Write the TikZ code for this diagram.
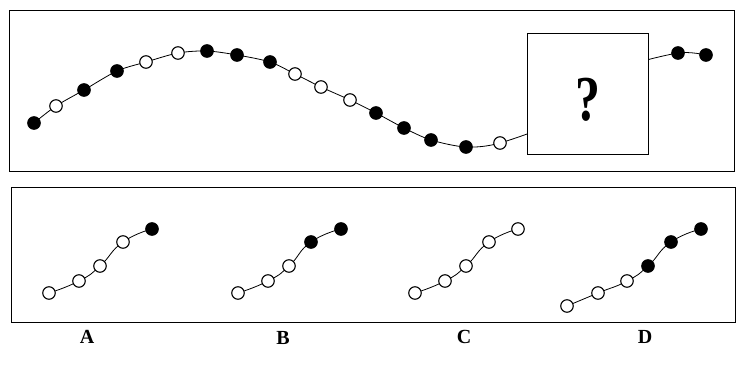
\documentclass[tikz,border=0pt]{standalone}
\usepackage{fontspec}
\setmainfont{Liberation Serif}
\usetikzlibrary{backgrounds}
\begin{document}
\begin{tikzpicture}[x=1pt, y=-1pt,
        bead/.style={circle, draw, line width=1.1pt, inner sep=0pt, minimum size=12.5pt},
        wbead/.style={bead, fill=white},
        bbead/.style={bead, fill=black},
        wire/.style={line width=0.8pt},
        frame/.style={line width=0.8pt},
        letter/.style={font=\fontsize{20}{20}\selectfont\bfseries}]
    \useasboundingbox (0,0) rectangle (744,369);

    % frames
    \draw[frame] (9,10) rectangle (734,171);
    \draw[frame] (11,187) rectangle (735,322);

    % top row
    \foreach \x/\y/\s [count=\i] in {34/123/bbead, 56/106/wbead, 84/90/bbead, 117/71/bbead,
            146/62/wbead, 178/53/wbead, 207/51/bbead, 237/55/bbead, 270/62/bbead,
            295/74/wbead, 321/87/wbead, 350/100/wbead, 376/113/bbead, 404/128/bbead,
            431/140/bbead, 466/147/bbead, 500/143/wbead}
        \node[\s] (t\i) at (\x,\y) {};
    \coordinate (h1) at (558,121);
    \coordinate (h2) at (590,93);
    \coordinate (h3) at (622,68);
    \node[bbead] (t18) at (678,53) {};
    \node[bbead] (t19) at (706,55) {};

    \begin{scope}[on background layer]
        \draw[wire] plot[smooth] coordinates {(t1.center) (t2.center) (t3.center) (t4.center)
            (t5.center) (t6.center) (t7.center) (t8.center) (t9.center) (t10.center)
            (t11.center) (t12.center) (t13.center) (t14.center) (t15.center) (t16.center)
            (t17.center) (h1) (h2) (h3) (t18.center) (t19.center)};
    \end{scope}

    \node[draw, line width=0.8pt, fill=white, minimum width=121pt, minimum height=121pt] (ask) at (587.5,93.5) {};
    \node[font=\fontsize{64}{64}\selectfont\bfseries, xscale=0.78] (qm) at (588,100) {?};

    % option A
    \node[wbead] (a1) at (49,293) {};
    \node[wbead] (a2) at (79,281) {};
    \node[wbead] (a3) at (100,266) {};
    \node[wbead] (a4) at (123,242) {};
    \node[bbead] (a5) at (152,229) {};

    % option B
    \node[wbead] (b1) at (238,293) {};
    \node[wbead] (b2) at (268,281) {};
    \node[wbead] (b3) at (289,266) {};
    \node[bbead] (b4) at (311,242) {};
    \node[bbead] (b5) at (341,229) {};

    % option C
    \node[wbead] (c1) at (415,293) {};
    \node[wbead] (c2) at (445,281) {};
    \node[wbead] (c3) at (466,266) {};
    \node[wbead] (c4) at (489,242) {};
    \node[wbead] (c5) at (518,229) {};

    % option D
    \node[wbead] (d1) at (567,306) {};
    \node[wbead] (d2) at (598,293) {};
    \node[wbead] (d3) at (627,281) {};
    \node[bbead] (d4) at (648,266) {};
    \node[bbead] (d5) at (671,242) {};
    \node[bbead] (d6) at (701,229) {};

    \begin{scope}[on background layer]
        \draw[wire] plot[smooth, tension=0.9] coordinates {(a1.center) (a2.center) (a3.center) (a4.center) (a5.center)};
        \draw[wire] plot[smooth, tension=0.9] coordinates {(b1.center) (b2.center) (b3.center) (b4.center) (b5.center)};
        \draw[wire] plot[smooth, tension=0.9] coordinates {(c1.center) (c2.center) (c3.center) (c4.center) (c5.center)};
        \draw[wire] plot[smooth, tension=0.9] coordinates {(d1.center) (d2.center) (d3.center) (d4.center) (d5.center) (d6.center)};
    \end{scope}

    % labels
    \node[letter] (la) at (87,337) {A};
    \node[letter] (lb) at (283,338) {B};
    \node[letter] (lc) at (464,337) {C};
    \node[letter] (ld) at (645,337) {D};
\end{tikzpicture}
\end{document}
